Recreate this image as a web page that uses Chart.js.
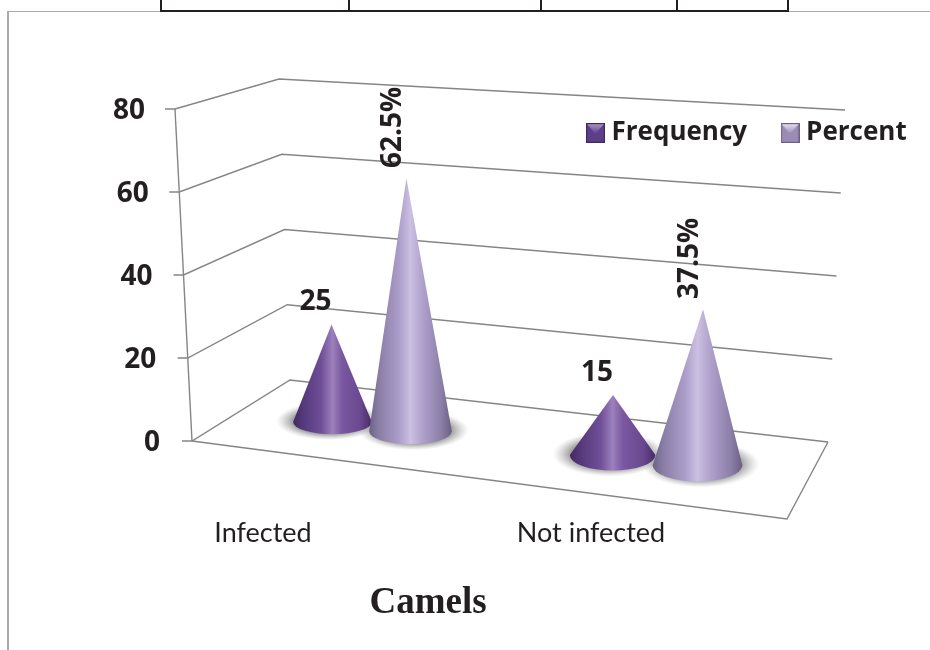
<!DOCTYPE html>
<html>
<head>
<meta charset="utf-8">
<title>Camels</title>
<script src="https://cdn.jsdelivr.net/npm/chart.js@4"></script>
<style>
  html, body { margin: 0; padding: 0; background: #fff; overflow: hidden; }
  #wrap { position: relative; width: 930px; height: 650px; }
  #c { position: absolute; left: 0; top: 0; }
  .frame, .rule { position: absolute; }
  .frame { background: #aaaaaa; }
  .rule { background: #231f20; }
</style>
</head>
<body>
<div id="wrap">
  <div class="frame" style="left:7px;top:11px;width:923px;height:1px"></div>
  <div class="frame" style="left:7px;top:11px;width:2px;height:639px"></div>
  <div class="rule" style="left:160px;top:10px;width:629px;height:2px"></div>
  <div class="rule" style="left:160px;top:0;width:2px;height:11px"></div>
  <div class="rule" style="left:348px;top:0;width:2px;height:11px"></div>
  <div class="rule" style="left:540px;top:0;width:2px;height:11px"></div>
  <div class="rule" style="left:676px;top:0;width:2px;height:11px"></div>
  <div class="rule" style="left:787px;top:0;width:2px;height:11px"></div>
  <canvas id="c" width="930" height="650"></canvas>
</div>
<script>
const categories = ["Infected", "Not infected"];
const seriesNames = ["Frequency", "Percent"];
const frequency = [25, 15];
const percent = [62.5, 37.5];
const yTicks = [0, 20, 40, 60, 80];
const titleText = "Camels";

const INK = "#231f20";
const LINE = "#858585";
const BOLD = "'Open Sans', sans-serif";

const coneStops = [
  [[0,"#432a63"],[0.14,"#573a7d"],[0.36,"#6f4f98"],[0.5,"#9c80bb"],[0.62,"#7a58a2"],[0.86,"#69488f"],[1,"#452b66"]],
  [[0,"#6d6385"],[0.12,"#8a7ea6"],[0.36,"#ab9dc9"],[0.5,"#cbc0e2"],[0.64,"#b0a2cc"],[0.88,"#8a7da6"],[1,"#6a5f82"]]
];
/* per-series projection of the flat bar slot onto the slanted floor */
const slotScale = [0.854, 0.875];
const heightScale = [0.94, 0.968];
const leanScale = [0.00006, 0.00018];

function legendIcon(body, light, edge) {
  const cv = document.createElement("canvas");
  cv.width = 19; cv.height = 20;
  const g = cv.getContext("2d");
  g.fillStyle = body; g.fillRect(0, 0, 19, 20);
  const grad = g.createLinearGradient(0, 0, 0, 11);
  grad.addColorStop(0, light); grad.addColorStop(1, body);
  g.fillStyle = grad;
  g.beginPath(); g.moveTo(1, 1); g.lineTo(18, 1); g.lineTo(9.5, 11); g.closePath(); g.fill();
  g.strokeStyle = edge; g.lineWidth = 1.2; g.strokeRect(0.6, 0.6, 17.8, 18.8);
  return cv;
}
const icons = [
  legendIcon("#5c3f88", "#b29bca", "#3f2a5e"),
  legendIcon("#9a8cb6", "#ece6f2", "#6c6182")
];

function line(ctx, pts, close) {
  ctx.beginPath();
  pts.forEach((p, i) => i ? ctx.lineTo(p[0], p[1]) : ctx.moveTo(p[0], p[1]));
  if (close) ctx.closePath();
  ctx.stroke();
}

const depthWalls = {
  id: "depthWalls",
  afterLayout(chart) {
    /* tick labels follow the slanted front edge of the wall */
    const y = chart.scales.y;
    const items = y.getLabelItems(chart.chartArea);
    items.forEach(it => {
      const t = (y.bottom - it.options.translation[1]) / (y.bottom - y.top);
      it.options.translation[0] += 15 * (1 - t);
      it.options.translation[1] += 2.5;
    });
    /* the legend floats inside the plot, in the top right */
    const lg = chart.legend;
    const h = lg.bottom - lg.top;
    lg.left = 592.5 - lg.options.labels.padding;
    lg.right = 1100;
    lg.top = 131 - h / 2 - 13;
    lg.bottom = lg.top + h;
  },
  beforeDatasetsDraw(chart) {
    const { ctx, scales: { y }, chartArea: a } = chart;
    const H = y.bottom - y.top;
    const pos = v => {
      const p = y.getPixelForValue(v), t = (y.bottom - p) / H;
      return {
        front: [a.left + 17 * (1 - t), p],
        tick: [a.left + 17 * (1 - t) - 10, p],
        back: [a.left + 115 - 11 * t, p - 61 + 31 * t],
        end: [a.right - 3 + 17 * t, p + 1]
      };
    };
    ctx.save();
    ctx.strokeStyle = LINE;
    ctx.lineWidth = 1.4;
    yTicks.forEach(v => {
      const q = pos(v);
      line(ctx, [q.tick, q.front, q.back, q.end]);
    });
    const lo = pos(yTicks[0]), hi = pos(yTicks[yTicks.length - 1]);
    line(ctx, [lo.front, hi.front]);
    line(ctx, [lo.front, [a.right - 44, y.bottom + 78], lo.end]);
    ctx.restore();
  },
  afterDatasetsDraw(chart) {
    const { ctx, scales: { y } } = chart;
    const cones = [];
    chart.data.datasets.forEach((ds, di) => {
      chart.getDatasetMeta(di).data.forEach((bar, i) => {
        const px = bar.x * slotScale[di] + 78;
        const h = (y.getPixelForValue(0) - bar.y) * (heightScale[di] + 0.00009 * (px - 332));
        const base = y.getPixelForValue(0) - 19 + 0.118 * (px - 332);
        const rx = bar.width / 2 * (0.96 + 0.0003 * (px - 332)) + di;
        const ry = 12 + 0.012 * (px - 332);
        const tip = [px + (px - 500) * leanScale[di] * h, base - h];
        cones.push({ di, i, v: ds.data[i], px, base, rx, ry, tip });
      });
    });
    cones.forEach(c => {
      ctx.save();
      ctx.translate(c.px + (c.di ? 3 : -3), c.base - 1);
      ctx.scale(1, (c.ry + 7) / (c.rx + 14));
      const R = c.rx + 14;
      const g = ctx.createRadialGradient(0, 0, R * 0.66, 0, 0, R);
      g.addColorStop(0, "rgba(85,85,85,0.62)");
      g.addColorStop(0.5, "rgba(120,120,120,0.32)");
      g.addColorStop(1, "rgba(160,160,160,0)");
      ctx.fillStyle = g;
      ctx.beginPath(); ctx.arc(0, 0, R, 0, Math.PI * 2); ctx.fill();
      ctx.restore();
    });
    cones.forEach(c => {
      ctx.save();
      const g = ctx.createLinearGradient(c.px - c.rx, 0, c.px + c.rx, 0);
      coneStops[c.di].forEach(s => g.addColorStop(s[0], s[1]));
      ctx.fillStyle = g;
      ctx.beginPath();
      ctx.moveTo(c.tip[0], c.tip[1]);
      ctx.lineTo(c.px - c.rx, c.base);
      ctx.ellipse(c.px, c.base, c.rx, c.ry, 0, Math.PI, 0, true);
      ctx.closePath();
      ctx.fill();
      ctx.restore();
    });
    ctx.save();
    ctx.fillStyle = INK;
    ctx.font = "bold 28px " + BOLD;
    ctx.textAlign = "center";
    ctx.textBaseline = "middle";
    cones.forEach(c => {
      if (c.di === 0) {
        ctx.fillText(String(c.v), c.tip[0] - 16, c.tip[1] - 22);
      } else {
        ctx.save();
        ctx.translate(c.tip[0] - 13, c.tip[1] - 51);
        ctx.rotate(-Math.PI / 2);
        ctx.fillText(c.v + "%", 0, 0);
        ctx.restore();
      }
    });
    ctx.font = "bold 37px 'Liberation Serif', serif";
    ctx.fillText(titleText, 428, 603);
    ctx.restore();
  }
};

new Chart(document.getElementById("c"), {
  type: "bar",
  data: {
    labels: categories,
    datasets: [
      { label: seriesNames[0], data: frequency, backgroundColor: "rgba(0,0,0,0)", borderWidth: 0 },
      { label: seriesNames[1], data: percent, backgroundColor: "rgba(0,0,0,0)", borderWidth: 0 }
    ]
  },
  options: {
    responsive: false,
    animation: false,
    devicePixelRatio: 1,
    categoryPercentage: 0.5,
    barPercentage: 1,
    layout: { padding: { top: 33, right: 99, left: 0, bottom: 0 } },
    scales: {
      x: {
        grid: { display: false },
        border: { display: false },
        afterFit: s => { s.height = 209; },
        ticks: {
          color: INK,
          font: { family: "Lato, sans-serif", size: 27 },
          labelOffset: -76,
          padding: 68,
          maxRotation: 0,
          autoSkip: false
        }
      },
      y: {
        min: yTicks[0],
        max: yTicks[yTicks.length - 1],
        grid: { display: false },
        border: { display: false },
        afterFit: s => { s.width = 175; },
        afterBuildTicks: s => { s.ticks = yTicks.map(v => ({ value: v })); },
        ticks: {
          color: INK,
          font: { family: BOLD, size: 28, weight: "bold" },
          padding: 22
        }
      }
    },
    plugins: {
      tooltip: { enabled: false },
      title: { display: false },
      legend: {
        display: true,
        position: "top",
        align: "start",
        labels: {
          usePointStyle: true,
          pointStyleWidth: 6,
          boxHeight: 20,
          padding: 40,
          color: INK,
          font: { family: BOLD, size: 26, weight: "bold" },
          generateLabels: chart => chart.data.datasets.map((ds, i) => ({
            text: ds.label,
            pointStyle: icons[i],
            fillStyle: "rgba(0,0,0,0)",
            strokeStyle: "rgba(0,0,0,0)",
            lineWidth: 0,
            fontColor: INK,
            hidden: false,
            datasetIndex: i
          }))
        }
      }
    }
  },
  plugins: [depthWalls]
});
</script>
</body>
</html>
